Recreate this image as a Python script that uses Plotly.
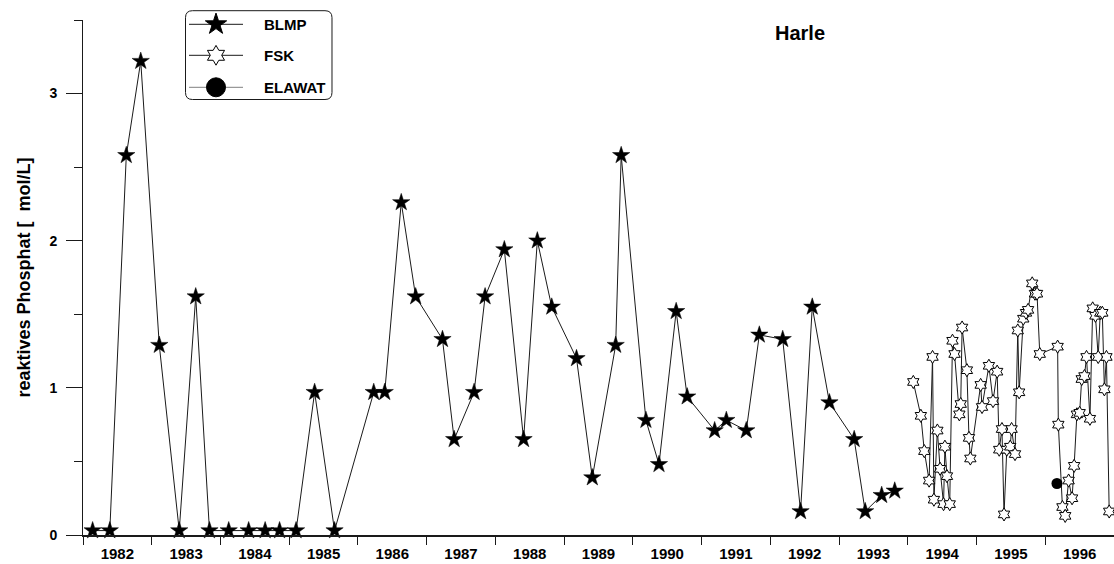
import plotly.graph_objects as go

# Reactive phosphate at Harle, decimal year vs. concentration
blmp_year = [1982.14, 1982.39, 1982.63, 1982.84, 1983.11, 1983.40, 1983.64, 1983.84, 1984.12, 1984.41,
             1984.65, 1984.86, 1985.10, 1985.37, 1985.66, 1986.23, 1986.39, 1986.63, 1986.84, 1987.23,
             1987.40, 1987.69, 1987.85, 1988.13, 1988.41, 1988.61, 1988.82, 1989.18, 1989.41, 1989.75,
             1989.83, 1990.19, 1990.38, 1990.63, 1990.79, 1991.19, 1991.36, 1991.65, 1991.84, 1992.18,
             1992.44, 1992.61, 1992.86, 1993.22, 1993.38, 1993.62, 1993.81]
blmp_po4 = [0.03, 0.03, 2.58, 3.22, 1.29, 0.03, 1.62, 0.03, 0.03, 0.03,
            0.03, 0.03, 0.03, 0.97, 0.03, 0.97, 0.97, 2.26, 1.62, 1.33,
            0.65, 0.97, 1.62, 1.94, 0.65, 2.00, 1.55, 1.20, 0.39, 1.29,
            2.58, 0.78, 0.48, 1.52, 0.94, 0.71, 0.78, 0.71, 1.36, 1.33,
            0.16, 1.55, 0.90, 0.65, 0.16, 0.27, 0.30]

fsk_year = [1994.08, 1994.19, 1994.24, 1994.31, 1994.36, 1994.38, 1994.43, 1994.47, 1994.52, 1994.54,
            1994.57, 1994.61, 1994.65, 1994.68, 1994.75, 1994.77, 1994.79, 1994.86, 1994.89, 1994.91,
            1995.06, 1995.08, 1995.18, 1995.24, 1995.30, 1995.33, 1995.37, 1995.40, 1995.44, 1995.49,
            1995.51, 1995.56, 1995.60, 1995.62, 1995.68, 1995.72, 1995.75, 1995.81, 1995.85, 1995.88,
            1995.92, 1996.18, 1996.19, 1996.25, 1996.29, 1996.34, 1996.39, 1996.42, 1996.46, 1996.50,
            1996.53, 1996.57, 1996.60, 1996.65, 1996.69, 1996.73, 1996.77, 1996.80, 1996.83, 1996.86,
            1996.89, 1996.93]
fsk_po4 = [1.04, 0.81, 0.57, 0.37, 1.21, 0.24, 0.71, 0.45, 0.21, 0.60,
           0.40, 0.21, 1.32, 1.23, 0.82, 0.89, 1.41, 1.12, 0.66, 0.52,
           1.02, 0.87, 1.15, 0.91, 1.11, 0.58, 0.72, 0.14, 0.58, 0.60,
           0.72, 0.55, 1.39, 0.97, 1.47, 1.51, 1.53, 1.71, 1.64, 1.64,
           1.23, 1.28, 0.75, 0.19, 0.13, 0.37, 0.25, 0.47, 0.82, 0.83,
           1.06, 1.08, 1.21, 0.79, 1.54, 1.49, 1.21, 1.51, 1.51, 0.99,
           1.21, 0.16]

elawat_year = [1996.17]
elawat_po4 = [0.35]

year_labels = [str(y) for y in range(1982, 1997)]
label_pos = [y + 0.5 for y in range(1982, 1997)]
year_bounds = list(range(1982, 1998))
y_major = [0, 1, 2, 3]
y_minor = [0.5, 1.5, 2.5, 3.5]

series_names = ["BLMP", "FSK", "ELAWAT"]
series_symbols = ["star", "hexagram", "circle"]
series_fill = ["black", "white", "black"]
series_line = ["#1a1a1a", "#1a1a1a", "#808080"]
key_sizes = [16, 15, 19]

FONT = "Liberation Sans, Arial, sans-serif"
INK = "#1a1a1a"

W, H = 1114, 564
ML, MR, MT, MB = 83, 0, 20, 29
PW = W - ML - MR
PH = H - MT - MB


def paper_x(px):
    return (px - ML) / PW


def paper_y(py):
    return (H - MB - py) / PH


fig = go.Figure()

fig.add_trace(go.Scatter(
    x=blmp_year, y=blmp_po4, mode="lines+markers", name="BLMP",
    line=dict(color=series_line[0], width=1),
    marker=dict(symbol="star", size=13, color="black", opacity=1,
                line=dict(color="black", width=0.5)),
    cliponaxis=False, showlegend=False))

fig.add_trace(go.Scatter(
    x=fsk_year, y=fsk_po4, mode="lines+markers", name="FSK",
    line=dict(color=series_line[1], width=1),
    marker=dict(symbol="hexagram", size=10, color="white", opacity=1,
                line=dict(color="black", width=1)),
    cliponaxis=False, showlegend=False))

fig.add_trace(go.Scatter(
    x=elawat_year, y=elawat_po4, mode="lines+markers", name="ELAWAT",
    line=dict(color=series_line[2], width=1),
    marker=dict(symbol="circle", size=11, color="black", opacity=1),
    cliponaxis=False, showlegend=False))

# key drawn in pixel space on a hidden overlay axis pair
key_rows = [24.3, 55.3, 87.3]
key_line_x = [189, 243]
key_mark_x = 216
key_text_x = 262

for yy, sym, fill, lc, sz in zip(key_rows, series_symbols, series_fill, series_line, key_sizes):
    fig.add_trace(go.Scatter(
        x=key_line_x, y=[yy, yy], mode="lines", xaxis="x2", yaxis="y2",
        line=dict(color=lc, width=1), cliponaxis=False, showlegend=False, hoverinfo="skip"))
    fig.add_trace(go.Scatter(
        x=[key_mark_x], y=[yy], mode="markers", xaxis="x2", yaxis="y2", opacity=1,
        marker=dict(symbol=sym, size=sz, color=fill, opacity=1,
                    line=dict(color="black", width=1)),
        cliponaxis=False, showlegend=False, hoverinfo="skip"))

bx0, bx1, by0, by1, r = 185.5, 332.0, 10.7, 99.5, 7


def pt(px, py):
    return f"{paper_x(px):.5f},{paper_y(py):.5f}"


box_path = (f"M {pt(bx0 + r, by0)} L {pt(bx1 - r, by0)} Q {pt(bx1, by0)} {pt(bx1, by0 + r)} "
            f"L {pt(bx1, by1 - r)} Q {pt(bx1, by1)} {pt(bx1 - r, by1)} "
            f"L {pt(bx0 + r, by1)} Q {pt(bx0, by1)} {pt(bx0, by1 - r)} "
            f"L {pt(bx0, by0 + r)} Q {pt(bx0, by0)} {pt(bx0 + r, by0)} Z")
shapes = [dict(type="path", xref="paper", yref="paper", path=box_path,
               fillcolor="rgba(0,0,0,0)", line=dict(color=INK, width=1), layer="above")]

annotations = []
for yy, name in zip(key_rows, series_names):
    annotations.append(dict(text=name, xref="paper", yref="paper",
                            x=paper_x(key_text_x), y=paper_y(yy),
                            xanchor="left", yanchor="middle", showarrow=False,
                            font=dict(family=FONT, size=15, color="black", weight="bold")))

annotations.append(dict(text="Harle", xref="paper", yref="paper",
                        x=paper_x(800), y=paper_y(33), xanchor="center", yanchor="middle",
                        showarrow=False,
                        font=dict(family=FONT, size=20, color="black", weight="bold")))

fig.update_layout(
    width=W, height=H,
    margin=dict(l=ML, r=MR, t=MT, b=MB),
    paper_bgcolor="white", plot_bgcolor="white",
    font=dict(family=FONT, color="black"),
    shapes=shapes, annotations=annotations,
    xaxis=dict(
        range=[1982, 1997], tickmode="array", tickvals=label_pos, ticktext=year_labels,
        ticks="", showline=True, linecolor=INK, linewidth=2, showgrid=False, zeroline=False,
        tickfont=dict(family=FONT, size=15, color="black", weight="bold"),
        ticklabelstandoff=4, automargin=False,
        minor=dict(tickmode="array", tickvals=year_bounds, ticks="outside", ticklen=8,
                   tickwidth=1, tickcolor=INK, showgrid=False),
    ),
    xaxis3=dict(
        overlaying="x", anchor="y", range=[1982, 1997], tickmode="array", tickvals=year_bounds,
        ticks="inside", ticklen=9, tickwidth=1, tickcolor=INK, showticklabels=False,
        showline=False, showgrid=False, zeroline=False,
    ),
    yaxis=dict(
        range=[0, 3.5], tickmode="array", tickvals=y_major, ticks="outside", ticklen=16,
        tickwidth=1, tickcolor=INK, showline=True, linecolor=INK, linewidth=1,
        showgrid=False, zeroline=False, automargin=False, ticklabelstandoff=6,
        tickfont=dict(family=FONT, size=14, color="black", weight="bold"),
        minor=dict(tickmode="array", tickvals=y_minor, ticks="outside", ticklen=8,
                   tickwidth=1, tickcolor=INK, showgrid=False),
        title=dict(text="reaktives Phosphat [  mol/L]", standoff=14,
                   font=dict(family=FONT, size=18, color="black", weight="bold")),
    ),
    xaxis2=dict(overlaying="x", anchor="y2", range=[ML, W - MR], visible=False),
    yaxis2=dict(overlaying="y", anchor="x2", range=[H - MB, MT], visible=False),
)

fig.write_html("out.html")
